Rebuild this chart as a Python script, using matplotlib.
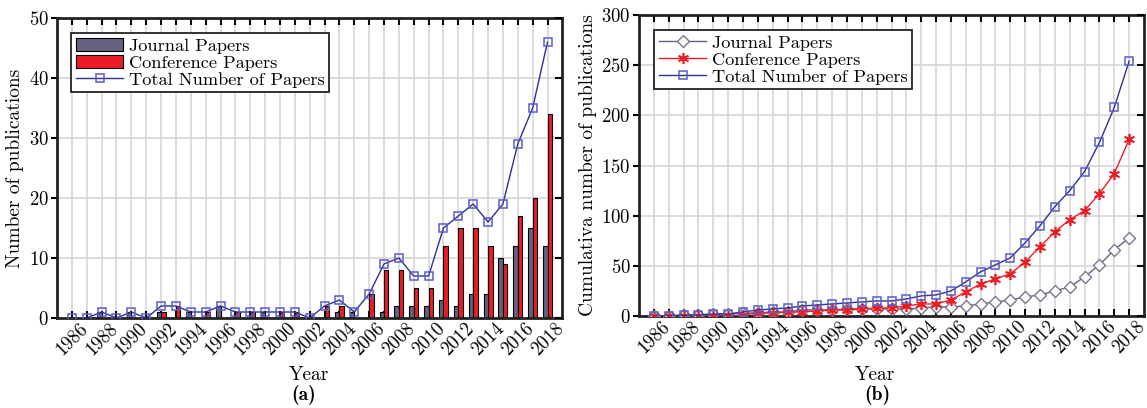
import matplotlib
matplotlib.use("Agg")
import matplotlib.pyplot as plt
import numpy as np

plt.rcParams['font.family'] = ['cmr10', 'DejaVu Serif']
plt.rcParams['mathtext.fontset'] = 'cm'
plt.rcParams['axes.formatter.use_mathtext'] = True

# ---- data ----
years = list(range(1986, 2019))
journal = [0, 0, 1, 0, 1, 0, 1, 0, 1, 0, 2, 0, 0, 1, 0, 0, 0,
           0, 1, 1, 0, 1, 2, 2, 2, 3, 2, 4, 4, 10, 12, 15, 12]
conference = [0, 0, 0, 0, 0, 0, 1, 2, 0, 1, 0, 1, 1, 0, 1, 1, 0,
              2, 2, 0, 4, 8, 8, 5, 5, 12, 15, 15, 12, 9, 17, 20, 34]
total = [0, 0, 1, 0, 1, 0, 2, 2, 1, 1, 2, 1, 1, 1, 1, 1, 0,
         2, 3, 1, 4, 9, 10, 7, 7, 15, 17, 19, 16, 19, 29, 35, 46]

cum_journal = [0, 0, 1, 1, 2, 2, 3, 3, 4, 4, 6, 6, 6, 7, 7, 7, 7,
               7, 8, 9, 9, 10, 12, 14, 16, 19, 21, 25, 29, 39, 51, 66, 78]
cum_conference = [0, 0, 0, 0, 0, 0, 1, 3, 3, 4, 4, 5, 6, 6, 7, 8, 8,
                  10, 12, 12, 16, 24, 32, 37, 42, 54, 69, 84, 96, 105, 122, 142, 176]
cum_total = [0, 0, 1, 1, 2, 2, 4, 6, 7, 8, 10, 11, 12, 13, 14, 15, 15,
             17, 20, 21, 25, 34, 44, 51, 58, 73, 90, 109, 125, 144, 173, 208, 254]

year_labels = [str(y) if y % 2 == 0 else '' for y in years]

# colours
c_journal = '#67607e'
c_conf = '#ed1c24'
c_total = '#2e3192'
c_square = '#5a5ec4'
c_grid = '#d6d6d6'
c_spine = '#222222'

fig = plt.figure(figsize=(11.47, 4.08), dpi=100)
ax1 = fig.add_axes([0.0497, 0.2206, 0.4406, 0.7353])
ax2 = fig.add_axes([0.5571, 0.2255, 0.4403, 0.7377])


def style_axes(ax, ymax, ystep, ylabel):
    ax.set_xlim(1985, 2019)
    ax.set_ylim(0, ymax)
    ax.set_xticks(years)
    ax.set_xticklabels(year_labels, rotation=45, ha='center', fontsize=13.5)
    ax.set_yticks(np.arange(0, ymax + 1, ystep))
    ax.tick_params(axis='y', labelsize=13.5, direction='out', length=4,
                   width=1.5, pad=2)
    ax.tick_params(axis='x', direction='in', top=True, length=5, width=1.5,
                   pad=1)
    ax.grid(True, color=c_grid, linewidth=1.2)
    ax.set_axisbelow(True)
    for s in ax.spines.values():
        s.set_linewidth(2)
        s.set_color(c_spine)
    ax.set_ylabel(ylabel, fontsize=14, labelpad=3)
    # inward ticks on the right side
    axr = ax.twinx()
    axr.set_ylim(0, ymax)
    axr.set_yticks(np.arange(0, ymax + 1, ystep))
    axr.tick_params(axis='y', direction='in', length=5, width=1.5,
                    labelright=False)
    for s in axr.spines.values():
        s.set_visible(False)


def captions(x_year, x_tag, tag):
    # "Year" and the panel tag, placed in figure pixels
    fig.text(x_year / 1147, 28 / 408, 'Year', ha='center', va='baseline',
             fontsize=14)
    fig.text(x_tag / 1147, 8 / 408, tag, ha='center', va='baseline',
             fontsize=14, family='cmb10')


def legend(ax, handles, anchor):
    leg = ax.legend(handles=handles, loc='upper left', bbox_to_anchor=anchor,
                    borderaxespad=0, fontsize=13.2, fancybox=False,
                    edgecolor=c_spine, framealpha=1, handlelength=2.6,
                    handleheight=0.75, handletextpad=0.3, labelspacing=0.05,
                    borderpad=0.25)
    leg.get_frame().set_linewidth(1.3)
    leg.set_zorder(5)
    return leg


# ---- (a) yearly counts ----
x = np.array(years)
b1 = ax1.bar(x - 0.15, journal, width=0.3, color=c_journal, edgecolor='black',
             linewidth=0.8, label='Journal Papers', zorder=2)
b2 = ax1.bar(x + 0.15, conference, width=0.3, color=c_conf, edgecolor='black',
             linewidth=0.8, label='Conference Papers', zorder=2)
l1, = ax1.plot(years, total, color=c_total, linewidth=1, marker='s',
               markersize=6, markerfacecolor='none', markeredgecolor=c_square,
               markeredgewidth=1.1, label='Total Number of Papers', zorder=3)
style_axes(ax1, 50, 10, 'Number of publications')
captions(309, 304, '(a)')
legend(ax1, [b1, b2, l1], (0.028, 0.95))

# ---- (b) cumulative counts ----
m1, = ax2.plot(years, cum_journal, color=c_journal, linewidth=1, marker='D',
               markersize=6, markerfacecolor='white',
               markeredgecolor='#7b7590', markeredgewidth=1,
               label='Journal Papers', zorder=3)
m2, = ax2.plot(years, cum_conference, color=c_conf, linewidth=1,
               marker=(6, 2, 0), markersize=8, markeredgecolor=c_conf,
               markeredgewidth=1.2, label='Conference Papers', zorder=3)
m3, = ax2.plot(years, cum_total, color=c_total, linewidth=1, marker='s',
               markersize=6, markerfacecolor='none', markeredgecolor=c_square,
               markeredgewidth=1.1, label='Total Number of Papers', zorder=3)
style_axes(ax2, 300, 50, 'Cumulativa number of publications')
captions(875, 877, '(b)')
legend(ax2, [m1, m2, m3], (0.03, 0.95))

fig.savefig('out.png', dpi=100)
